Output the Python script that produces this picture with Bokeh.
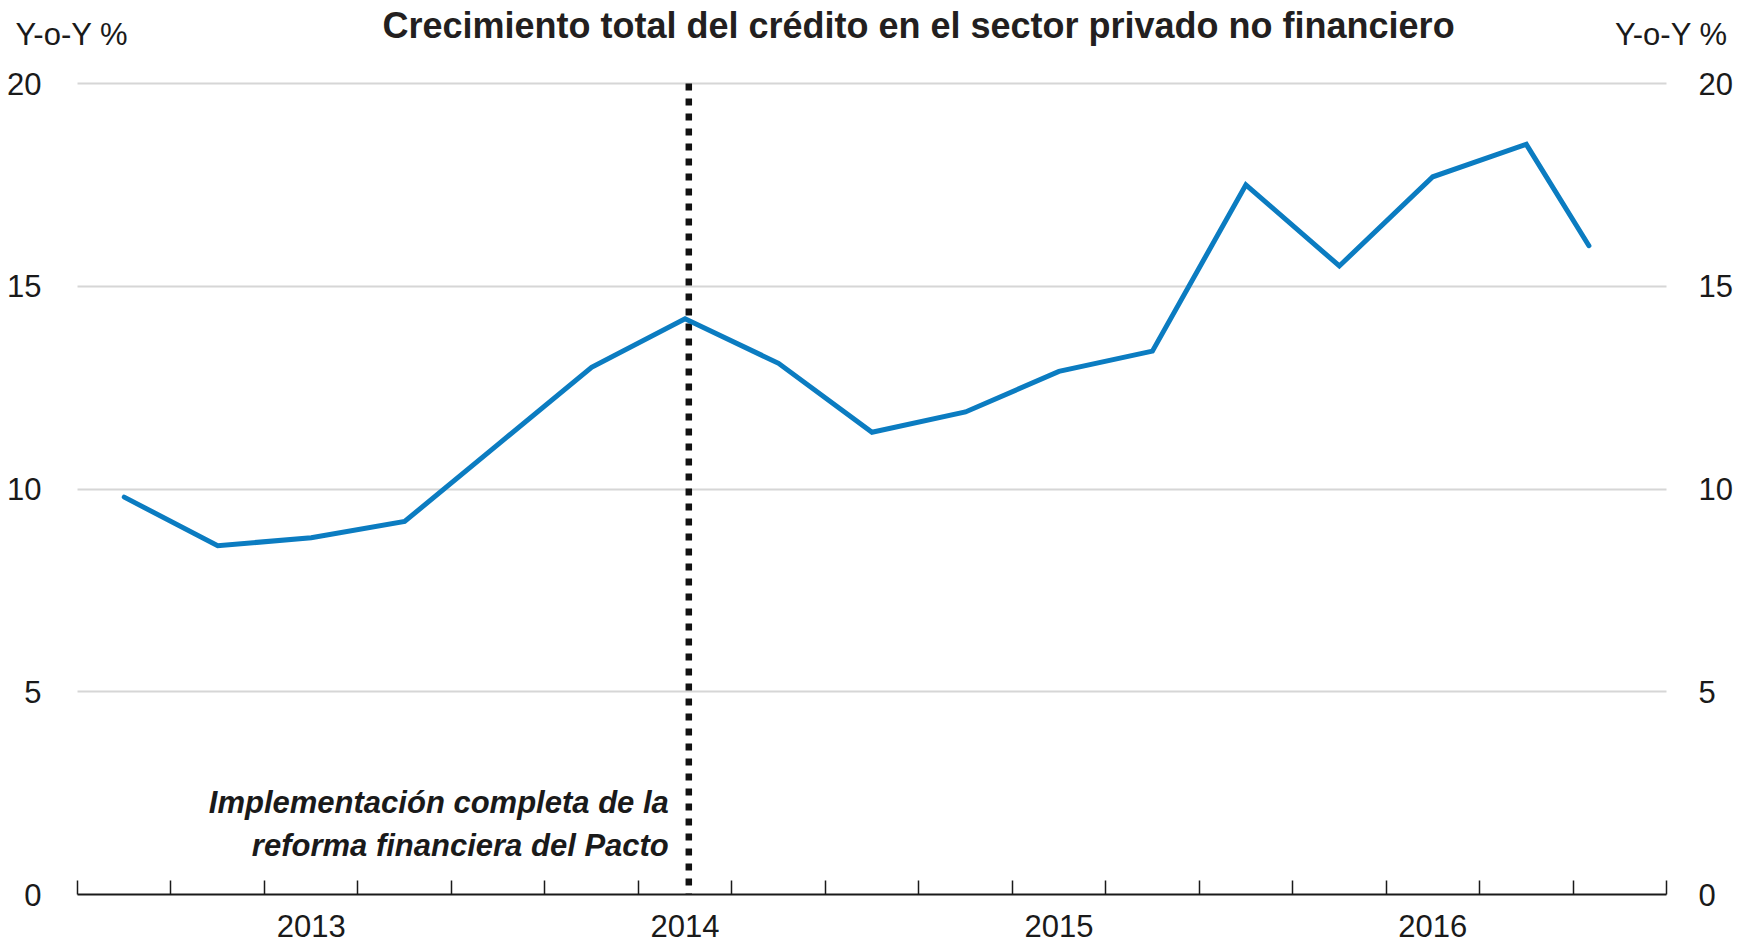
from bokeh.plotting import figure
from bokeh.models import Range1d, FixedTicker, LinearAxis, Label, Grid
from bokeh.embed import file_html
from bokeh.resources import INLINE

# ---- data ----
quarter_pos = [0.5, 1.5, 2.5, 3.5, 4.5, 5.5, 6.5, 7.5, 8.5, 9.5, 10.5, 11.5,
               12.5, 13.5, 14.5, 15.5, 16.17]
credit_growth = [9.8, 8.6, 8.8, 9.2, 11.1, 13.0, 14.2, 13.1, 11.4, 11.9, 12.9,
                 13.4, 17.5, 15.5, 17.7, 18.5, 16.0]
year_labels = ["2013", "2014", "2015", "2016"]
year_label_pos = [2.5, 6.5, 10.5, 14.5]
quarter_ticks = list(range(0, 18))
y_ticks = [0, 5, 10, 15, 20]
reform_x = 6.54

title_text = "Crecimiento total del crédito en el sector privado no financiero"
unit_text = "Y-o-Y %"
note_lines = ["Implementación completa de la", "reforma financiera del Pacto"]

FONT = "Liberation Sans"
BLUE = "#0b7cc1"
INK = "#1a1a1a"

# ---- canvas geometry (pixels) ----
W, H = 1752, 948
PLOT_L, PLOT_R, PLOT_T, PLOT_B = 77, 1666, 83, 894

x0, x1 = quarter_ticks[0], quarter_ticks[-1]
y0, y1 = y_ticks[0], y_ticks[-1]
px_x = (PLOT_R - PLOT_L) / (x1 - x0)
px_y = (PLOT_B - PLOT_T) / (y1 - y0)
x_range = Range1d(x0 - PLOT_L / px_x, x1 + (W - PLOT_R) / px_x)
y_range = Range1d(y0 - (H - PLOT_B) / px_y, y1 + PLOT_T / px_y)

p = figure(width=W, height=H, output_backend="svg", toolbar_location=None,
           x_range=x_range, y_range=y_range, min_border=0,
           x_axis_location=None, y_axis_location=None)
p.outline_line_color = None
p.xgrid.visible = False
p.ygrid.visible = False

# x axis through y = 0
xa = LinearAxis(fixed_location=y0, bounds=(x0, x1))
xa.ticker = FixedTicker(ticks=year_label_pos, minor_ticks=quarter_ticks)
xa.major_label_overrides = {pos: lab for pos, lab in zip(year_label_pos, year_labels)}
xa.major_tick_in = 0
xa.major_tick_out = 0
xa.minor_tick_in = 14
xa.minor_tick_out = 0
xa.minor_tick_line_color = INK
xa.minor_tick_line_width = 1.5
xa.axis_line_color = INK
xa.axis_line_width = 2
xa.major_label_text_font = FONT
xa.major_label_text_font_size = "31px"
xa.major_label_text_color = INK
xa.major_label_standoff = 20
p.add_layout(xa, "below")

# y axes on both sides (labels only)
for side, loc, standoff in (("left", x0, 30), ("right", x1, 26)):
    ya = LinearAxis(fixed_location=loc, bounds=(y0, y1),
                    ticker=FixedTicker(ticks=y_ticks))
    ya.axis_line_color = None
    ya.major_tick_line_color = None
    ya.minor_tick_line_color = None
    ya.major_label_text_font = FONT
    ya.major_label_text_font_size = "31px"
    ya.major_label_text_color = INK
    ya.major_label_standoff = standoff
    p.add_layout(ya, side)

# horizontal gridlines limited to the plot area
grid = Grid(dimension=1, ticker=FixedTicker(ticks=y_ticks[1:]),
            grid_line_color="#d6d6d6", grid_line_width=2)
if "cross_bounds" in grid.properties():
    grid.cross_bounds = (x0, x1)
    p.add_layout(grid)
else:
    p.segment(x0=[x0] * (len(y_ticks) - 1), x1=[x1] * (len(y_ticks) - 1),
              y0=y_ticks[1:], y1=y_ticks[1:], line_color="#d6d6d6", line_width=2)

# reform marker
p.segment(x0=[reform_x], y0=[y1], x1=[reform_x], y1=[y0], line_color="#111111",
          line_width=6.5, line_dash="7 8")

# series
p.line(quarter_pos, credit_growth, line_color=BLUE, line_width=5,
       line_join="miter", line_cap="round")

# texts
p.add_layout(Label(x=x0, y=y1, x_offset=918 - PLOT_L, y_offset=PLOT_T - 25,
                   text=title_text, text_align="center", text_baseline="middle",
                   text_font=FONT, text_font_size="36px", text_font_style="bold",
                   text_color="#231f20"))
p.add_layout(Label(x=x0, y=y1, x_offset=15 - PLOT_L, y_offset=PLOT_T - 34,
                   text=unit_text, text_align="left", text_baseline="middle",
                   text_font=FONT, text_font_size="31px", text_color=INK))
p.add_layout(Label(x=x1, y=y1, x_offset=1727 - PLOT_R, y_offset=PLOT_T - 34,
                   text=unit_text, text_align="right", text_baseline="middle",
                   text_font=FONT, text_font_size="31px", text_color=INK))
for line_txt, off in zip(note_lines, [92, 49]):
    p.add_layout(Label(x=reform_x, y=y0, x_offset=-20, y_offset=off, text=line_txt,
                       text_align="right", text_baseline="middle",
                       text_font=FONT, text_font_size="31px",
                       text_font_style="bold italic", text_color=INK))

open("out.html", "w").write(file_html(p, INLINE))
